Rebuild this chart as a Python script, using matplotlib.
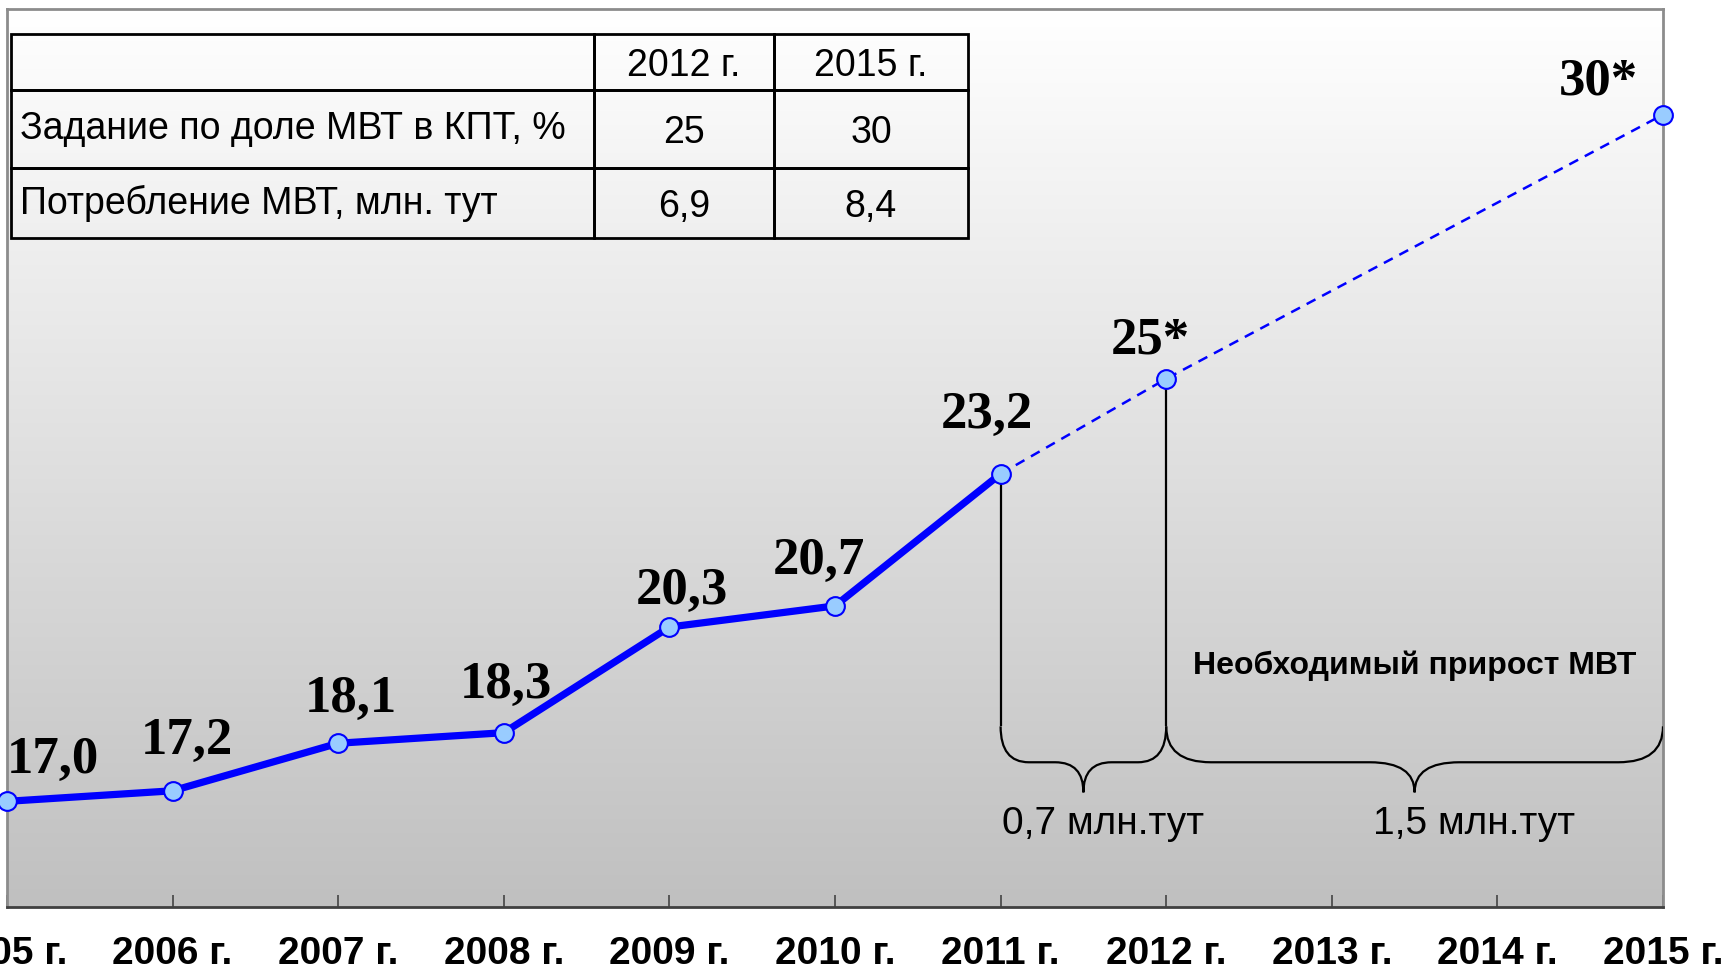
import numpy as np
import matplotlib
matplotlib.use('Agg')
import matplotlib.pyplot as plt
from matplotlib.path import Path
from matplotlib.patches import PathPatch
from matplotlib.colors import LinearSegmentedColormap
from matplotlib import font_manager

# share of local fuels (MVT) in the fuel balance, %
years_fact = [2005, 2006, 2007, 2008, 2009, 2010, 2011]
share_fact = [17.0, 17.2, 18.1, 18.3, 20.3, 20.7, 23.2]
years_plan = [2011, 2012, 2015]
share_plan = [23.2, 25.0, 30.0]
plan_labels = ['', '25*', '30*']
tick_years = list(range(2005, 2016))

table_cols = ['', '2012 г.', '2015 г.']
table_rows = ['Задание по доле МВТ в КПТ, %', 'Потребление МВТ, млн. тут']
table_vals = [['25', '30'], ['6,9', '8,4']]

growth_title = 'Необходимый прирост МВТ'
growth_labels = ['0,7 млн.тут', '1,5 млн.тут']

# label offsets (pixels) from the points
fact_offsets = [(46, 41), (14, 50), (13, 44), (2, 48), (12, 36), (-16, 45), (-14, 59)]
plan_offsets = [None, (-16, 38), (-65, 33)]

names = {f.name for f in font_manager.fontManager.ttflist}
if 'Liberation Sans Narrow' in names:
    sans = ['Liberation Sans Narrow', 'DejaVu Sans']
    k = 1.2
else:
    sans = ['Liberation Sans', 'DejaVu Sans']
    k = 1.0
serif = ['Liberation Serif', 'DejaVu Serif']

fig = plt.figure(figsize=(17.29, 9.74), dpi=100)
ax = fig.add_axes([7/1729, 1-907/974, 1656/1729, 898/974])
ax.set_xlim(2005, 2015)
ax.set_ylim(15, 32)

# background gradient white -> gray
cmap = LinearSegmentedColormap.from_list('bg', ['#c0c0c0', '#ffffff'])
grad = np.linspace(0, 1, 256)[:, None]
ax.imshow(grad, extent=[2005, 2015, 15, 32], origin='lower', aspect='auto',
          cmap=cmap, zorder=0)

ax.plot(years_fact, share_fact, color='#0000ff', lw=5.2, zorder=3, solid_capstyle='round')
ax.plot(years_plan, share_plan, color='#0000ff', lw=1.8, ls=(0, (4, 3)), zorder=3)
ax.plot(years_fact + years_plan[1:], share_fact + share_plan[1:], ls='none',
        marker='o', ms=13.5, mfc='#99ccff', mec='#0000ff', mew=1.5, zorder=4, clip_on=False)

for x, y, off in zip(years_fact, share_fact, fact_offsets):
    ax.annotate(f'{y:.1f}'.replace('.', ','), (x, y), xytext=off, textcoords='offset pixels',
                ha='center', va='center', fontsize=38, fontweight='bold', family=serif,
                annotation_clip=False, zorder=5)
for x, y, lab, off in zip(years_plan, share_plan, plan_labels, plan_offsets):
    if lab:
        ax.annotate(lab, (x, y), xytext=off,
                    textcoords='offset pixels', ha='center', va='center', fontsize=38,
                    fontweight='bold', family=serif, annotation_clip=False, zorder=5)

# braces showing required growth
def brace(x0, x1, ytop, ymid, ytip, r):
    xc = (x0 + x1) / 2
    verts = [(x0, ytop), (x0, ymid), (x0 + r, ymid), (xc - r, ymid), (xc, ymid), (xc, ytip),
             (xc, ymid), (xc + r, ymid), (x1 - r, ymid), (x1, ymid), (x1, ytop)]
    codes = [Path.MOVETO, Path.CURVE3, Path.CURVE3, Path.LINETO, Path.CURVE3, Path.CURVE3,
             Path.CURVE3, Path.CURVE3, Path.LINETO, Path.CURVE3, Path.CURVE3]
    ax.add_patch(PathPatch(Path(verts, codes), fc='none', ec='black', lw=1.6, zorder=3))
    return xc

ytop, ymid, ytip = 18.42, 17.74, 17.17
ax.vlines(years_plan[:2], ytop, share_plan[:2], color='black', lw=1.6, zorder=2)
c1 = brace(years_plan[0], years_plan[1], ytop, ymid, ytip, 0.17)
c2 = brace(years_plan[1], years_plan[2], ytop, ymid, ytip, 0.27)

ax.text(c2, 19.57, growth_title, ha='center', va='center', fontsize=23*k,
        fontweight='bold', family=sans)
ax.text(c1 + 0.12, 16.58, growth_labels[0], ha='center', va='center', fontsize=28*k, family=sans)
ax.text(c2 + 0.36, 16.58, growth_labels[1], ha='center', va='center', fontsize=28*k, family=sans)

# table with targets
cells = [table_cols] + [[r] + v for r, v in zip(table_rows, table_vals)]
tab = ax.table(cellText=cells, colWidths=[583, 180, 194], cellLoc='center',
               bbox=[(11-7)/1656, (907-238)/898, 957/1656, 204/898], zorder=6)
tab.auto_set_font_size(False)
heights = [56, 78, 70]
for (r, c), cell in tab.get_celld().items():
    cell.set_height(heights[r])
    cell.set_facecolor('none')
    cell.set_edgecolor('black')
    cell.set_linewidth(2)
    t = cell.get_text()
    t.set_fontsize(27*k)
    t.set_family(sans)
    if c == 0:
        t.set_horizontalalignment('left')
        cell.PAD = 0.015
    else:
        t.set_verticalalignment('center_baseline')

ax.set_yticks([])
ax.set_xticks(tick_years)
ax.set_xticklabels([f'{y} г.' for y in tick_years], fontsize=28*k, fontweight='bold', family=sans)
ax.tick_params(axis='x', direction='in', length=9, width=1.2, color='#444444', pad=21)
for s in ['top', 'right', 'left']:
    ax.spines[s].set_color('#8c8c8c')
    ax.spines[s].set_linewidth(2)
ax.spines['bottom'].set_color('#404040')
ax.spines['bottom'].set_linewidth(2)

fig.savefig('out.png', dpi=100)
